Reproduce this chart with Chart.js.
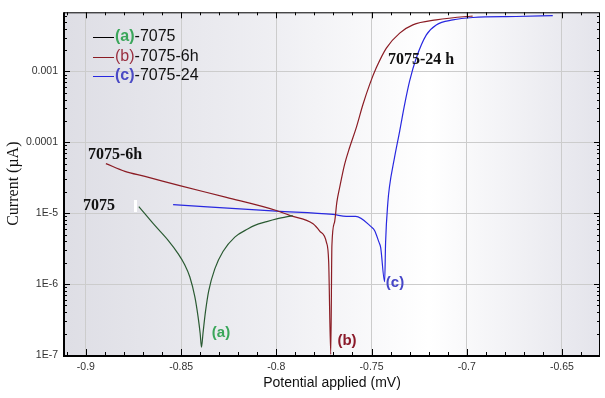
<!DOCTYPE html>
<html>
<head>
<meta charset="utf-8">
<script src="https://cdn.jsdelivr.net/npm/chart.js@4"></script>
<style>
html, body { margin: 0; padding: 0; background: #fff; }
</style>
</head>
<body>
<canvas id="tafel" width="605" height="398"></canvas>
<script>
// Tafel curves: potential (mV) vs current (uA, log scale)
const potA = [-0.8722, -0.8638, -0.8568, -0.8516, -0.8481, -0.8454, -0.8428, -0.8411, -0.8400, -0.8393, -0.8385, -0.8372, -0.8355, -0.8323, -0.8280, -0.8218, -0.8148, -0.8113, -0.8050, -0.7998, -0.7914];
const curA = [1.24e-5, 6.72e-6, 4.14e-6, 2.69e-6, 1.87e-6, 1.26e-6, 6.64e-7, 3.48e-7, 2.03e-7, 1.29e-7, 2.03e-7, 4.08e-7, 8.05e-7, 1.64e-6, 2.88e-6, 4.6e-6, 6.02e-6, 6.72e-6, 7.6e-6, 8.3e-6, 9.23e-6];

const potB = [-0.8895, -0.8795, -0.8690, -0.8507, -0.8262, -0.80, -0.793, -0.7807, -0.7772, -0.7737, -0.7725, -0.7714, -0.7708, -0.7694, -0.7682, -0.7667, -0.7641, -0.7615, -0.7580, -0.7545, -0.7510, -0.7475, -0.7422, -0.7352, -0.7283, -0.7160, -0.7002, -0.6969];
const curB = [5.0e-5, 3.88e-5, 3.3e-5, 2.44e-5, 1.67e-5, 1.09e-5, 9.3e-6, 7.1e-6, 5.6e-6, 3.9e-6, 2.06e-6, 1.02e-7, 3.5e-6, 7.5e-6, 1.43e-5, 2.32e-5, 4.91e-5, 8.43e-5, 1.61e-4, 3.41e-4, 6.5e-4, 1.12e-3, 2.13e-3, 3.46e-3, 4.52e-3, 5.31e-3, 5.93e-3, 6.0e-3];

const potC = [-0.8542, -0.80, -0.7702, -0.7632, -0.7583, -0.7501, -0.7484, -0.7461, -0.7452, -0.7431, -0.7426, -0.7414, -0.7406, -0.7379, -0.7352, -0.7326, -0.7300, -0.7265, -0.7212, -0.7160, -0.7073, -0.6968, -0.6741, -0.6548];
const curC = [1.32e-5, 1.07e-5, 9.6e-6, 9.0e-6, 9.0e-6, 6.4e-6, 5.7e-6, 3.9e-6, 3.3e-6, 1.08e-6, 3.9e-6, 1.43e-5, 2.32e-5, 6.1e-5, 1.44e-4, 3.41e-4, 7.26e-4, 1.54e-3, 3.27e-3, 4.52e-3, 5.31e-3, 5.74e-3, 5.93e-3, 6.1e-3];

const xTicks = [-0.9, -0.85, -0.8, -0.75, -0.7, -0.65];
const yTicks = [1e-7, 1e-6, 1e-5, 1e-4, 1e-3];
const yTickLabels = ['1E-7', '1E-6', '1E-5', '0.0001', '0.001'];

function toPoints(xs, ys) {
    return xs.map((x, i) => ({ x: x, y: ys[i] }));
}

// background, frame, minor ticks, legend and labels
const decor = {
    id: 'decor',
    beforeDraw(chart) {
        const ctx = chart.ctx;
        const a = chart.chartArea;
        const g = ctx.createLinearGradient(a.left, 0, a.right, 0);
        g.addColorStop(0, '#dedee5');
        g.addColorStop(0.4, '#efeff3');
        g.addColorStop(0.68, '#ffffff');
        g.addColorStop(1, '#e4e4eb');
        ctx.save();
        ctx.fillStyle = g;
        ctx.fillRect(a.left, a.top, a.right - a.left, a.bottom - a.top);
        ctx.restore();
    },
    afterDraw(chart) {
        const ctx = chart.ctx;
        const a = chart.chartArea;
        const xs = chart.scales.x;
        const ys = chart.scales.y;
        ctx.save();

        // ticks
        ctx.strokeStyle = '#000';
        ctx.lineWidth = 1;
        ctx.beginPath();
        for (let v = -0.91; v <= xs.max + 1e-9; v += 0.01) {
            const px = Math.round(xs.getPixelForValue(v)) + 0.5;
            if (px < a.left || px > a.right) continue;
            const major = xTicks.some(t => Math.abs(t - v) < 1e-6);
            const len = major ? 6 : 3;
            ctx.moveTo(px, a.bottom); ctx.lineTo(px, a.bottom - len);
            ctx.moveTo(px, a.top); ctx.lineTo(px, a.top + len);
        }
        for (let d = 1e-7; d < ys.max; d *= 10) {
            for (let k = 1; k <= 9; k++) {
                const v = d * k;
                if (v > ys.max) break;
                const py = Math.round(ys.getPixelForValue(v)) + 0.5;
                const len = k === 1 ? 6 : 3;
                ctx.moveTo(a.left, py); ctx.lineTo(a.left + len, py);
                ctx.moveTo(a.right, py); ctx.lineTo(a.right - len, py);
            }
        }
        ctx.stroke();

        // frame
        ctx.lineWidth = 1;
        ctx.strokeRect(a.left + 0.5, a.top + 0.5, a.right - a.left - 1, a.bottom - a.top);
        ctx.lineWidth = 2;
        ctx.beginPath();
        ctx.moveTo(a.left, a.top); ctx.lineTo(a.left, a.bottom + 1);
        ctx.lineTo(a.right, a.bottom + 1);
        ctx.stroke();

        // legend
        const rows = [
            { y: 37, line: '#000000', parts: [['(a)', '#3aa65a', 'bold'], ['-7075', '#111', 'normal']] },
            { y: 57, line: '#8b1c24', parts: [['(b)', '#9a3040', 'normal'], ['-7075-6h', '#111', 'normal']] },
            { y: 76, line: '#2828e0', parts: [['(c)', '#4a4ac4', 'bold'], ['-7075-24', '#111', 'normal']] }
        ];
        ctx.textBaseline = 'middle';
        ctx.textAlign = 'left';
        rows.forEach(r => {
            ctx.strokeStyle = r.line;
            ctx.lineWidth = 1;
            ctx.beginPath();
            ctx.moveTo(93, r.y + 0.5); ctx.lineTo(114, r.y + 0.5);
            ctx.stroke();
            let x = 115;
            r.parts.forEach(p => {
                ctx.font = p[2] + ' 16px "Liberation Sans", Arial, sans-serif';
                ctx.fillStyle = p[1];
                ctx.fillText(p[0], x, r.y);
                x += ctx.measureText(p[0]).width;
            });
        });

        // curve annotations
        ctx.fillStyle = '#fff';
        ctx.fillRect(134, 200, 3, 12);
        ctx.fillStyle = '#111';
        ctx.font = 'bold 16px "Liberation Serif", "Times New Roman", serif';
        ctx.fillText('7075-6h', 88, 155);
        ctx.fillText('7075', 83, 206);
        ctx.fillText('7075-24 h', 388, 60);

        ctx.font = 'bold 15px "Liberation Sans", Arial, sans-serif';
        ctx.textAlign = 'center';
        ctx.fillStyle = '#3aa65a';
        ctx.fillText('(a)', 221, 333);
        ctx.fillStyle = '#8b1a2a';
        ctx.fillText('(b)', 347, 341);
        ctx.fillStyle = '#4646c8';
        ctx.fillText('(c)', 395, 283);
        ctx.restore();
    }
};

new Chart(document.getElementById('tafel').getContext('2d'), {
    type: 'scatter',
    data: {
        datasets: [
            {
                label: '(a)-7075',
                data: toPoints(potA, curA),
                showLine: true,
                borderColor: '#2a5a32',
                borderWidth: 1.2,
                pointRadius: 0,
                cubicInterpolationMode: 'monotone'
            },
            {
                label: '(b)-7075-6h',
                data: toPoints(potB, curB),
                showLine: true,
                borderColor: '#8b1c24',
                borderWidth: 1.2,
                pointRadius: 0,
                cubicInterpolationMode: 'monotone'
            },
            {
                label: '(c)-7075-24',
                data: toPoints(potC, curC),
                showLine: true,
                borderColor: '#2828e0',
                borderWidth: 1.2,
                pointRadius: 0,
                cubicInterpolationMode: 'monotone'
            }
        ]
    },
    options: {
        responsive: false,
        animation: false,
        devicePixelRatio: 1,
        layout: { padding: { top: 10, right: 5, left: 0, bottom: 0 } },
        plugins: {
            legend: { display: false },
            tooltip: { enabled: false }
        },
        scales: {
            x: {
                type: 'linear',
                min: -0.9115,
                max: -0.630,
                afterBuildTicks: s => { s.ticks = xTicks.map(v => ({ value: v })); },
                afterFit: s => { s.height = 43; },
                ticks: {
                    callback: v => String(v),
                    font: { family: '"Liberation Sans", Arial', size: 10.5 },
                    color: '#333',
                    padding: 6,
                    maxRotation: 0
                },
                grid: { color: '#cccccc', drawTicks: false },
                border: { display: false },
                title: {
                    display: true,
                    text: 'Potential applied (mV)',
                    font: { family: '"Liberation Sans", Arial', size: 14 },
                    color: '#111',
                    padding: { top: 4, bottom: 6 }
                }
            },
            y: {
                type: 'logarithmic',
                min: 1e-7,
                max: 6.8e-3,
                afterBuildTicks: s => { s.ticks = yTicks.map(v => ({ value: v })); },
                afterFit: s => { s.width = 64; },
                ticks: {
                    callback: (v, i) => yTickLabels[i],
                    font: { family: '"Liberation Sans", Arial', size: 10.5 },
                    color: '#333',
                    padding: 6
                },
                grid: { color: '#cccccc', drawTicks: false },
                border: { display: false },
                title: {
                    display: true,
                    text: 'Current (µA)',
                    font: { family: '"Liberation Serif", "Times New Roman"', size: 16 },
                    color: '#111',
                    padding: { top: 4, bottom: 4 }
                }
            }
        }
    },
    plugins: [decor]
});
</script>
</body>
</html>
